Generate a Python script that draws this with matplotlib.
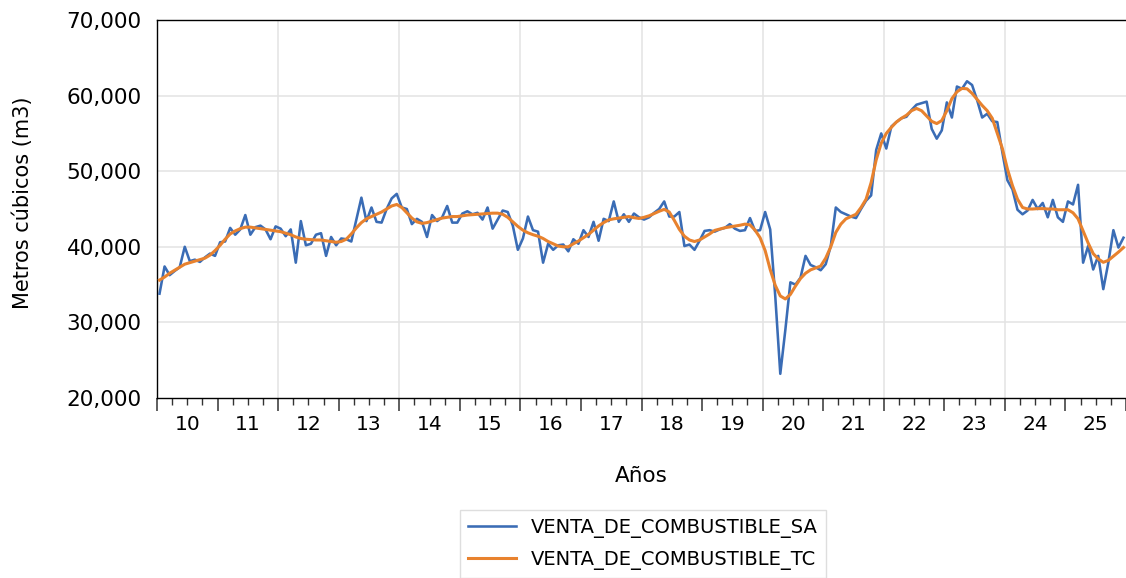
import numpy as np
import matplotlib
matplotlib.use("Agg")
import matplotlib.pyplot as plt
from matplotlib.ticker import FixedLocator, FuncFormatter
import matplotlib.transforms as mtransforms

# ---------------- data (monthly, Jan 2010 - Dec 2025) ----------------
start_year = 2010
venta_sa = [
    33800, 37400, 36250, 36800, 37300, 40000, 38100, 38300, 38000, 38600, 39100, 38800,  # 2010
    40600, 40700, 42500, 41600, 42300, 44200, 41600, 42600, 42800, 42300, 41000, 42700,  # 2011
    42400, 41400, 42300, 37900, 43400, 40200, 40400, 41600, 41800, 38800, 41300, 40200,  # 2012
    41100, 41000, 40700, 43600, 46500, 43400, 45200, 43300, 43200, 45000, 46400, 47000,  # 2013
    45200, 45000, 43000, 43700, 43300, 41300, 44200, 43400, 43900, 45400, 43200, 43200,  # 2014
    44400, 44700, 44300, 44500, 43600, 45200, 42400, 43600, 44800, 44600, 42800, 39600,  # 2015
    41100, 44000, 42200, 42000, 37900, 40400, 39600, 40200, 40300, 39400, 41000, 40400,  # 2016
    42200, 41300, 43300, 40800, 43700, 43400, 46000, 43300, 44300, 43300, 44400, 43900,  # 2017
    43600, 43900, 44500, 45000, 46000, 44000, 44000, 44600, 40100, 40300, 39600, 40800,  # 2018
    42100, 42200, 42000, 42300, 42500, 43000, 42400, 42100, 42200, 43800, 42100, 42200,  # 2019
    44600, 42300, 33500, 23200, 29000, 35300, 35000, 35900, 38800, 37600, 37300, 36900,  # 2020
    37700, 40100, 45200, 44600, 44300, 44000, 43800, 45000, 46100, 46800, 52800, 55000,  # 2021
    53000, 55900, 56500, 57000, 57200, 58100, 58800, 59000, 59200, 55600, 54300, 55400,  # 2022
    59100, 57100, 61200, 60900, 61900, 61400, 59400, 57100, 57600, 56600, 56500, 52500,  # 2023
    48800, 47600, 44900, 44300, 44800, 46200, 45000, 45800, 43900, 46200, 43900, 43300,  # 2024
    46000, 45600, 48200, 37900, 40100, 37000, 38800, 34400, 37900, 42200, 39900, 41200,  # 2025
]
venta_tc = [
    35600, 36000, 36500, 36900, 37300, 37700, 37900, 38100, 38300, 38500, 38900, 39500,
    40200, 41000, 41700, 42100, 42400, 42600, 42600, 42500, 42400, 42300, 42200, 42100,
    42000, 41800, 41600, 41300, 41100, 41000, 40950, 40900, 40900, 40800, 40700, 40600,
    40700, 41000, 41700, 42500, 43200, 43700, 44000, 44300, 44600, 45000, 45400, 45600,
    45200, 44500, 43800, 43300, 43100, 43200, 43400, 43600, 43800, 43900, 44000, 44000,
    44100, 44200, 44250, 44300, 44350, 44400, 44450, 44450, 44300, 43900, 43300, 42700,
    42200, 41850, 41600, 41400, 41100, 40700, 40400, 40100, 40000, 40000, 40400, 40760,
    41200, 41640, 42200, 42760, 43200, 43560, 43700, 43800, 43900, 44000, 43850, 43750,
    43900, 44100, 44400, 44700, 44950, 44600, 43500, 42300, 41400, 40900, 40700, 40900,
    41300, 41700, 42170, 42350, 42520, 42630, 42740, 42850, 43000, 42900, 42200, 41200,
    39500, 37000, 34900, 33500, 33100, 33700, 34800, 35800, 36500, 36950, 37200, 37450,
    38500, 40000, 41900, 43000, 43700, 44000, 44300, 45200, 46300, 48500, 51500, 53700,
    55000, 55800, 56500, 57000, 57400, 58000, 58300, 58000, 57300, 56600, 56300, 56700,
    58000, 59600, 60500, 60950, 60900, 60300, 59500, 58700, 58000, 57000, 55000, 53000,
    50300, 48100, 46300, 45200, 45000, 45000, 45050, 45050, 45000, 45000, 44900, 44900,
    44900, 44500, 43700, 42100, 40500, 39100, 38400, 37950, 38200, 38750, 39300, 39900,
]
year_labels = ["10", "11", "12", "13", "14", "15", "16", "17",
               "18", "19", "20", "21", "22", "23", "24", "25"]
series_names = ["VENTA_DE_COMBUSTIBLE_SA", "VENTA_DE_COMBUSTIBLE_TC"]
y_label = "Metros cúbicos (m3)"
x_label = "Años"

# ---------------- figure ----------------
plt.rcParams['font.family'] = ['DejaVu Sans']
W, H = 1126, 578
fig = plt.figure(figsize=(W / 100, H / 100), dpi=100)
ax_l, ax_r, ax_t, ax_b = 157, 1126, 20, 398
ax = fig.add_axes([ax_l / W, 1 - ax_b / H, (ax_r - ax_l) / W, (ax_b - ax_t) / H])

n = len(venta_sa)
x = start_year + (np.arange(n) + 0.5) / 12.0

blue = "#3a6cb5"
orange = "#e8822e"
ax.plot(x, venta_sa, color=blue, lw=1.85, label=series_names[0], zorder=3)
ax.plot(x, venta_tc, color=orange, lw=2.2, label=series_names[1], zorder=4)

n_years = len(year_labels)
ax.set_xlim(start_year, start_year + n_years)
ax.set_ylim(20000, 70000)

# y axis
ax.set_yticks(np.arange(20000, 70001, 10000))
ax.yaxis.set_major_formatter(FuncFormatter(lambda v, p: f"{int(v):,}"))
ax.tick_params(axis='y', length=0, pad=11, labelsize=15.5, colors='black')

# x axis: major ticks at years, minor at quarters, labels centered in year
years = np.arange(start_year, start_year + n_years + 1)
ax.xaxis.set_major_locator(FixedLocator(years))
ax.xaxis.set_minor_locator(FixedLocator(np.arange(start_year, start_year + n_years, 0.25)))
ax.tick_params(axis='x', which='major', length=9, width=1.1, color='#333333', labelbottom=False, direction='out')
ax.tick_params(axis='x', which='minor', length=5, width=1.0, color='#333333', direction='out')

trans = mtransforms.blended_transform_factory(ax.transData, ax.transAxes)
for k, lab in enumerate(year_labels):
    ax.text(start_year + k + 0.5, -0.044, lab, transform=trans, ha='center', va='top', fontsize=14.5)

# grid
ax.set_axisbelow(True)
for yv in np.arange(30000, 70000, 10000):
    ax.axhline(yv, color='#e3e3e3', lw=1.1, zorder=0)
for xv in np.arange(start_year + 2, start_year + n_years, 2):
    ax.axvline(xv, color='#e3e3e3', lw=1.1, zorder=0)

for s in ['left', 'top', 'bottom']:
    ax.spines[s].set_color('black')
    ax.spines[s].set_linewidth(1.0)
ax.spines['right'].set_visible(False)

ax.set_ylabel(y_label, fontsize=15)
ax.yaxis.set_label_coords((33 - ax_l) / (ax_r - ax_l), 1 - (203 - ax_t) / (ax_b - ax_t))
ax.set_xlabel(x_label, fontsize=15.5)
ax.xaxis.set_label_coords(0.5, -(466 - ax_b) / (ax_b - ax_t))

leg = fig.legend(loc='upper center', bbox_to_anchor=(643 / W, 1 - 510 / H),
                 fontsize=14, frameon=True, fancybox=False, edgecolor='#d6d6d6',
                 handlelength=2.45, handletextpad=0.8, labelspacing=0.62,
                 borderpad=0.42, borderaxespad=0)
leg.get_frame().set_linewidth(1.0)

fig.savefig("out.png", dpi=100)
